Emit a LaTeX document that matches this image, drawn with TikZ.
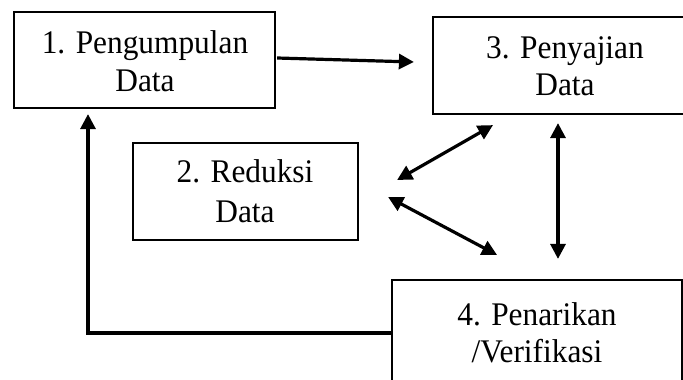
\documentclass[tikz,border=0pt]{standalone}
\usepackage{fontspec}
\setmainfont[FakeStretch=0.95]{Liberation Serif}
\usetikzlibrary{arrows.meta,calc}
\begin{document}
\begin{tikzpicture}[x=1pt,y=-1pt,
  box/.style={draw, line width=2.2pt, inner sep=0pt, anchor=center},
  lbl/.style={anchor=base, inner sep=0pt, font=\fontsize{33}{39}\selectfont},
  arr/.style={line width=3.2pt, -{Triangle[length=15pt,width=15pt]}},
  darr/.style={line width=3.2pt, {Triangle[length=15pt,width=15pt]}-{Triangle[length=15pt,width=15pt]}}]
\useasboundingbox (0,0) rectangle (683,380);
\clip (0,0) rectangle (683,380);
\fill[white] (0,0) rectangle (683,380);
% boxes
\node[box, minimum width=261pt, minimum height=96pt] (b1) at (144.5,60) {};
\node[box, minimum width=264pt, minimum height=97pt] (b3) at (565,65.5) {};
\node[box, minimum width=225pt, minimum height=97pt] (b2) at (245.5,191.5) {};
\node[box, minimum width=290pt, minimum height=110pt] (b4) at (537,335) {};
% labels
\node[lbl] (t1a) at (145,53) {1. Pengumpulan};
\node[lbl] (t1b) at (145,91) {Data};
\node[lbl] (t3a) at (565,58) {3. Penyajian};
\node[lbl] (t3b) at (565,95) {Data};
\node[lbl] (t2a) at (245,182) {2. Reduksi};
\node[lbl] (t2b) at (245,222) {Data};
\node[lbl] (t4a) at (537,325) {4. Penarikan};
\node[lbl] (t4b) at (537,362) {/Verifikasi};
% connectors
\draw[arr] ($(b1.east)+(1,-2)$) -- ($(b3.west)+(-18,-3.5)$);
\draw[darr] ($(b2.east)+(38,-11.5)$) -- ($(b3.south)+(-72,10)$);
\draw[darr] ($(b2.east)+(29,5.5)$) -- ($(b4.north)+(-40,-24)$);
\draw[darr] ($(b3.south)+(-7,8)$) -- ($(b4.north)+(21,-20)$);
\draw[arr] ($(b4.west)+(0,-2)$) -| ($(b1.south)+(-56.5,5)$);
\end{tikzpicture}
\end{document}
